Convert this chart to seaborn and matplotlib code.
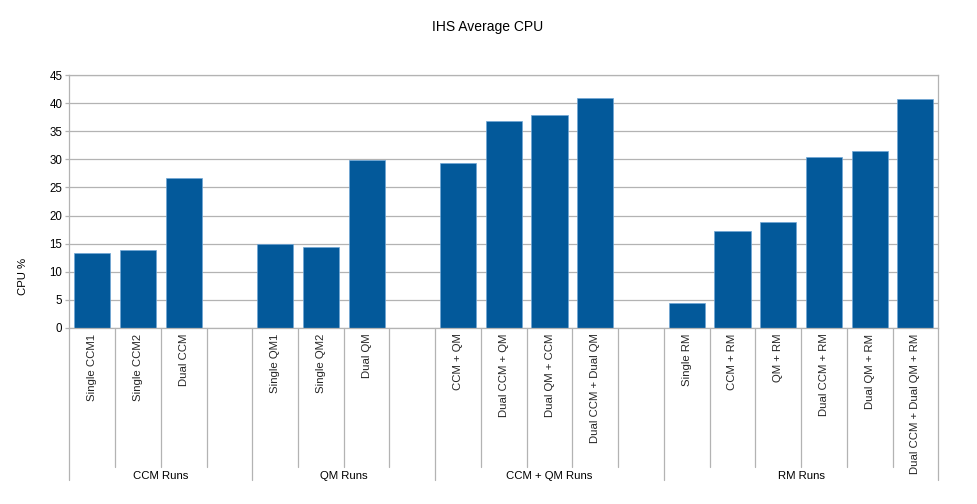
import matplotlib
matplotlib.use("Agg")
import matplotlib.pyplot as plt
import matplotlib.transforms as mtransforms
import seaborn as sns
import pandas as pd

sns.set_theme(style="white")
plt.rcParams['font.family'] = ['Liberation Sans', 'DejaVu Sans']

groups = ["CCM Runs", "QM Runs", "CCM + QM Runs", "RM Runs"]
group_cats = [
    ["Single CCM1", "Single CCM2", "Dual CCM"],
    ["Single QM1", "Single QM2", "Dual QM"],
    ["CCM + QM", "Dual CCM + QM", "Dual QM + CCM", "Dual CCM + Dual QM"],
    ["Single RM", "CCM + RM", "QM + RM", "Dual CCM + RM", "Dual QM + RM",
     "Dual CCM + Dual QM + RM"],
]
group_vals = [
    [13.3, 13.8, 26.6],
    [15.0, 14.4, 29.8],
    [29.3, 36.8, 37.8, 40.9],
    [4.5, 17.3, 18.9, 30.5, 31.5, 40.8],
]

# build slot order with an empty slot after each group except the last
order, labels, cats, vals = [], [], [], []
group_spans = []
for gi, (cs, vs) in enumerate(zip(group_cats, group_vals)):
    start = len(order)
    for c, v in zip(cs, vs):
        order.append(c)
        labels.append(c)
        cats.append(c)
        vals.append(v)
    if gi < len(group_cats) - 1:
        blank = " " * (gi + 1)
        order.append(blank)
        labels.append("")
    group_spans.append((start, len(order)))

df = pd.DataFrame({"cat": cats, "cpu": vals})

fig = plt.figure(figsize=(9.77, 5.04), dpi=100)
ax = fig.add_axes([69.3 / 977, 1 - 328 / 504, 869 / 977, 253 / 504])

sns.barplot(data=df, x="cat", y="cpu", order=order, color="#03599A",
            saturation=1, width=0.79, edgecolor="#6fa6d6", linewidth=0.5,
            ax=ax)

n = len(order)
ax.set_xlim(-0.5, n - 0.5)
ax.set_ylim(0, 45)
ax.set_yticks(range(0, 46, 5))
ax.yaxis.grid(True, color="#b3b3b3", linewidth=0.9)
ax.set_axisbelow(True)
for s in ax.spines.values():
    s.set_color("#b3b3b3")
    s.set_linewidth(0.9)
ax.tick_params(axis="y", length=3, width=0.9, color="#b3b3b3", pad=2,
               labelsize=8.3, labelcolor="#000000", left=True)
ax.set_xticks(range(n))
ax.set_xticklabels(labels, rotation=90, fontsize=8.2, va="top", ha="center")
ax.tick_params(axis="x", length=0, pad=4)
ax.set_xlabel("")
ax.set_ylabel("")

trans = mtransforms.blended_transform_factory(ax.transData, ax.transAxes)
y_inner = (328 - 467) / 253
y_outer = (328 - 480) / 253
y_glabel = (328 - 476) / 253

group_bounds = set()
for (s, e) in group_spans:
    group_bounds.add(s)
    group_bounds.add(e)
for i in range(n + 1):
    x = i - 0.5
    y0 = y_outer if i in group_bounds else y_inner
    ax.plot([x, x], [0, y0], transform=trans, color="#b3b3b3",
            linewidth=0.9, clip_on=False)

for g, (s, e) in zip(groups, group_spans):
    ax.text((s + e) / 2 - 0.5, y_glabel, g, transform=trans, ha="center",
            va="center", fontsize=8.2, color="#000000")

fig.text(487.5 / 977, 1 - 26.5 / 504, "IHS Average CPU", ha="center",
         va="center", fontsize=10, color="#000000")
fig.text(22.5 / 977, 1 - 276 / 504, "CPU %", ha="center", va="center",
         rotation=90, fontsize=8.2, color="#000000")

fig.savefig("out.png", dpi=100, facecolor="white")
